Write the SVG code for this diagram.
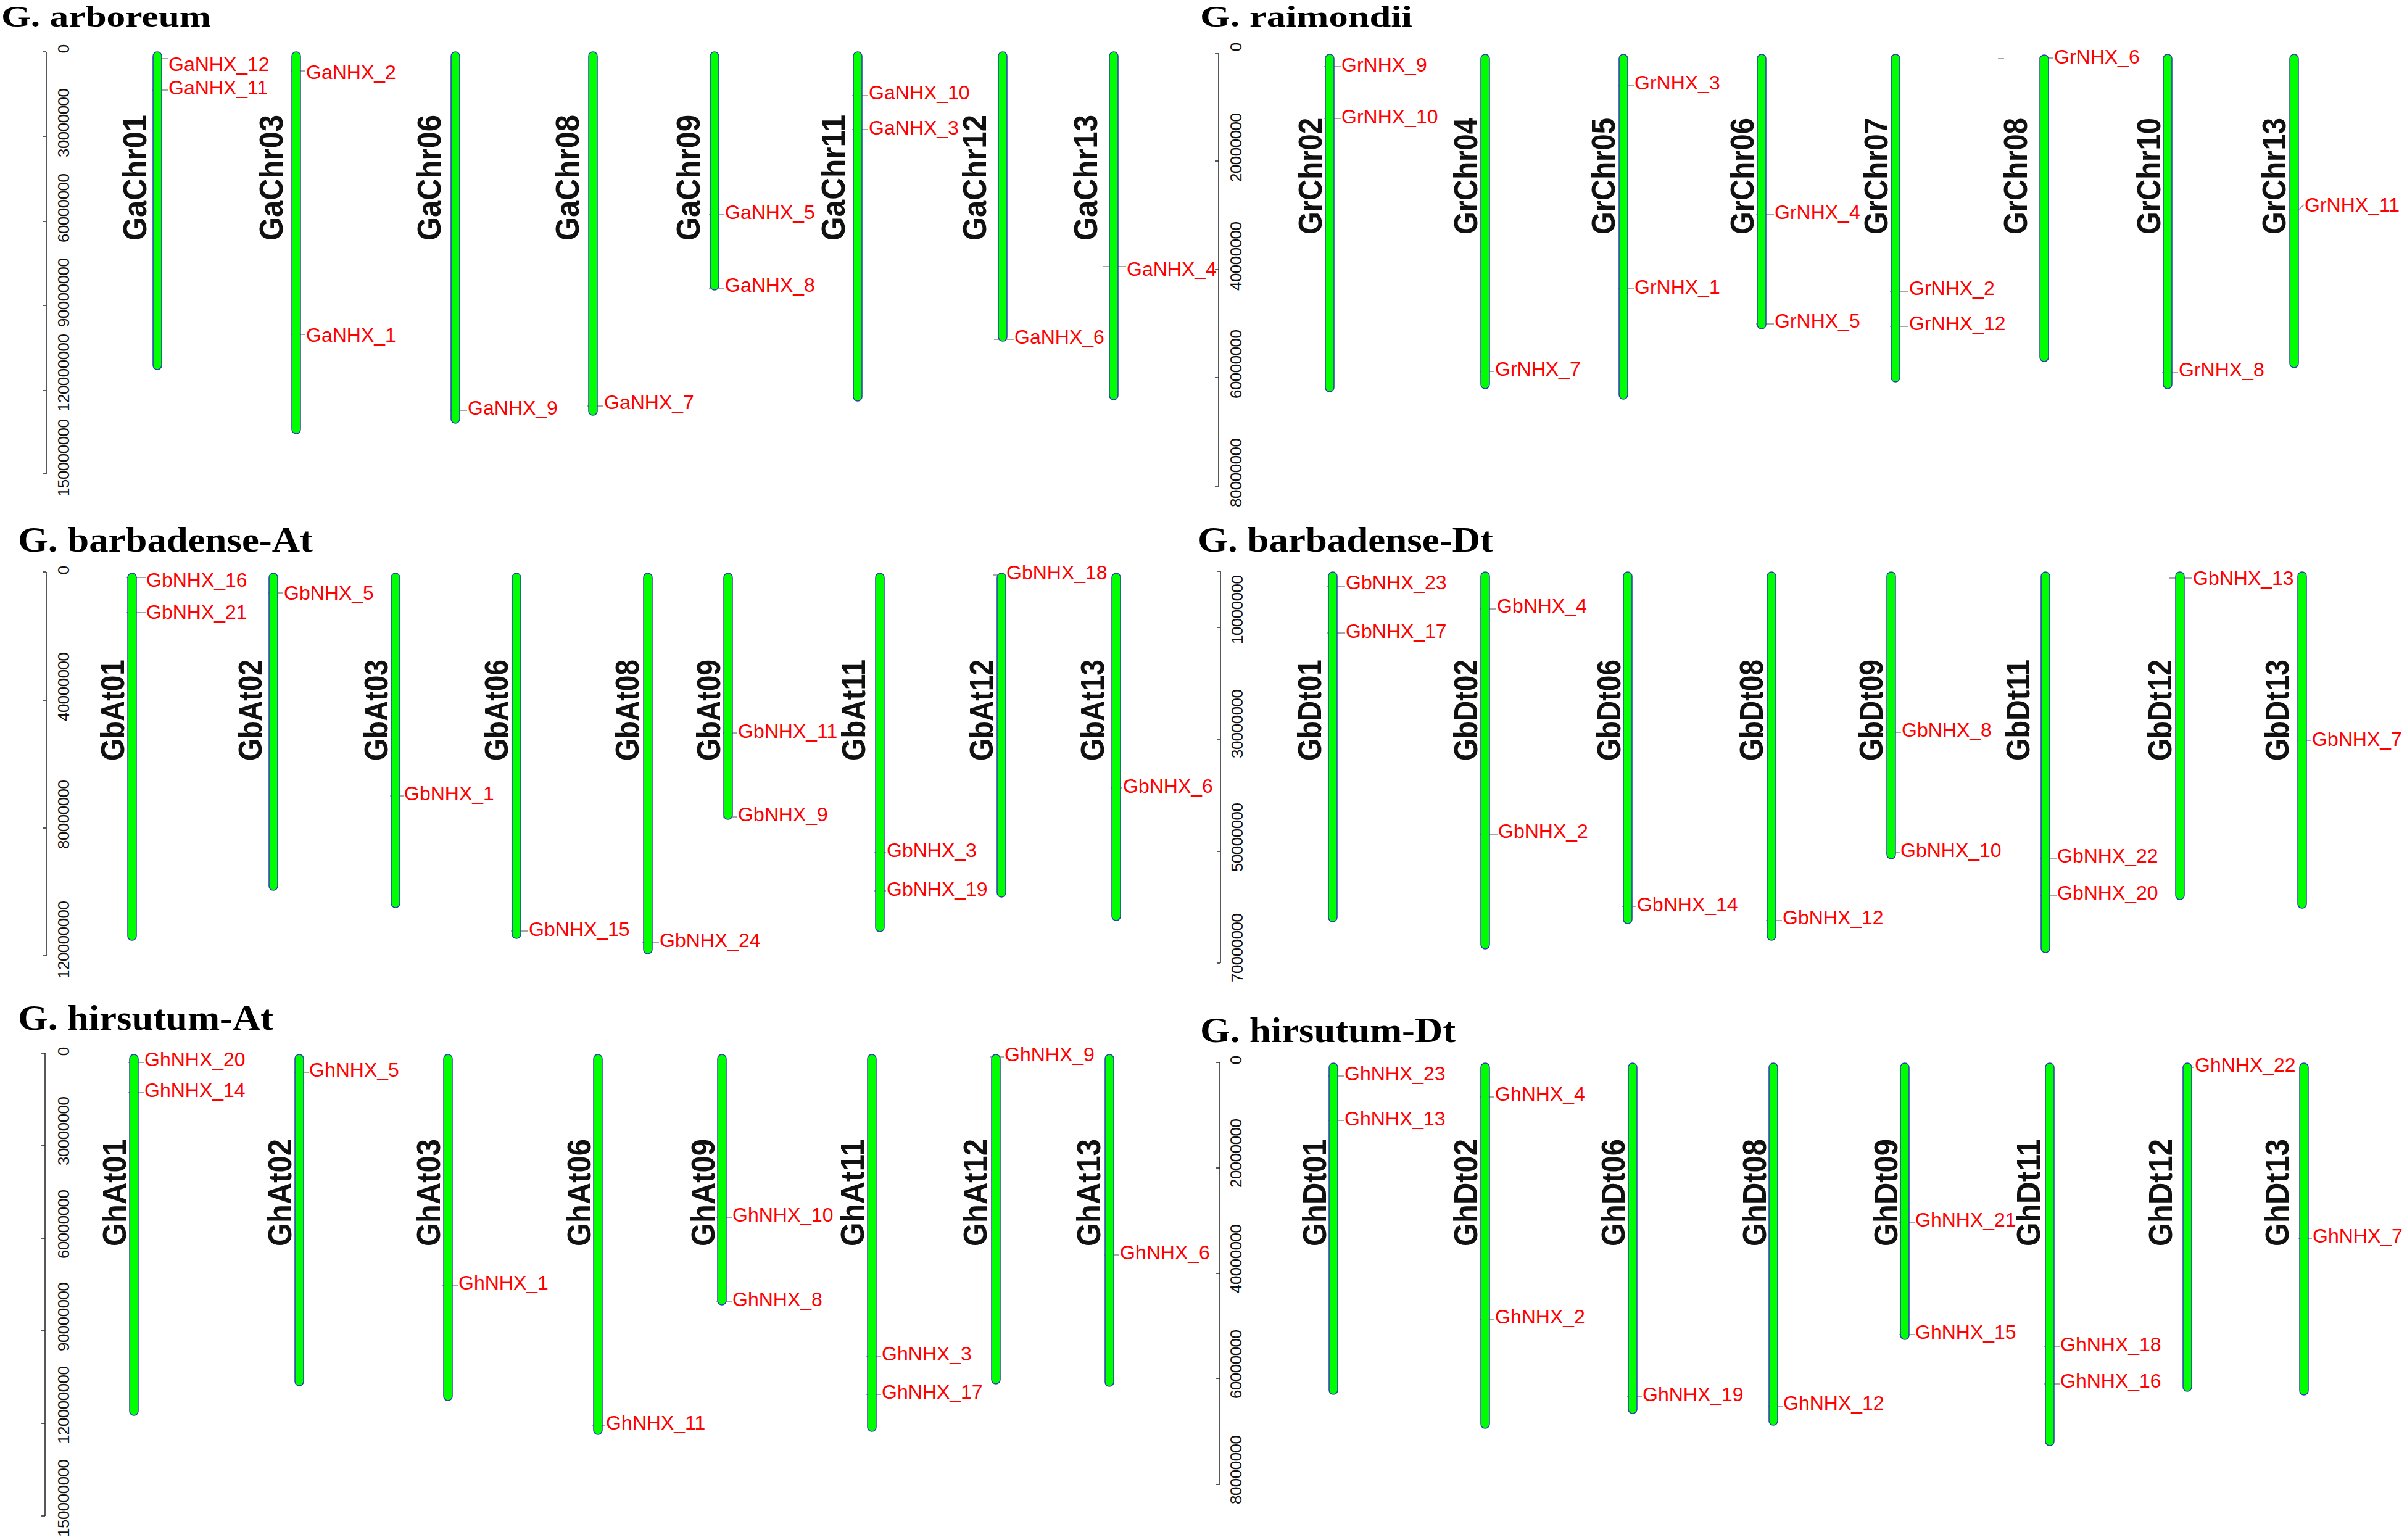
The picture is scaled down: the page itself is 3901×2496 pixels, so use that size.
<svg xmlns="http://www.w3.org/2000/svg" width="3901" height="2496" viewBox="0 0 3901 2496">
<style>
.chr{fill:#00ff00;stroke:#2a3bb5;stroke-width:1.5}
.cl{font-family:"Liberation Sans",Arial,sans-serif;font-weight:bold;font-size:53px;fill:#111}
.gl{font-family:"Liberation Sans",Arial,sans-serif;font-size:32px;fill:#ff0000}
.tl{font-family:"Liberation Sans",Arial,sans-serif;font-size:26px;fill:#111;text-anchor:middle}
.ttl{font-family:"Liberation Serif","Times New Roman",serif;font-weight:bold;font-size:56px;fill:#000}
.ttl2{font-family:"Liberation Serif","Times New Roman",serif;font-weight:bold;font-size:48px;fill:#000}
.ax{stroke:#222;stroke-width:1.5;fill:none}
.mk{stroke:#8a8a8a;stroke-width:1.5;fill:none}
</style>
<rect width="3901" height="2496" fill="#fff"/>
<!-- titles -->
<text class="ttl2" x="2" y="43" textLength="340" lengthAdjust="spacingAndGlyphs">G. arboreum</text>
<text class="ttl2" x="1945" y="43" textLength="344" lengthAdjust="spacingAndGlyphs">G. raimondii</text>
<text class="ttl" x="29" y="894" textLength="478" lengthAdjust="spacingAndGlyphs">G. barbadense-At</text>
<text class="ttl" x="1941" y="894" textLength="479" lengthAdjust="spacingAndGlyphs">G. barbadense-Dt</text>
<text class="ttl" x="29" y="1669" textLength="414" lengthAdjust="spacingAndGlyphs">G. hirsutum-At</text>
<text class="ttl" x="1945" y="1689" textLength="414" lengthAdjust="spacingAndGlyphs">G. hirsutum-Dt</text>
<!-- axes -->
<g id="axis-arboreum">
<path class="ax" d="M75 84V768M69 84H75M69 221H75M69 359H75M69 495H75M69 633H75M69 768H75"/>
<text class="tl" transform="translate(112,79) rotate(-90)">0</text>
<text class="tl" transform="translate(112,199) rotate(-90)" textLength="112">30000000</text>
<text class="tl" transform="translate(112,337) rotate(-90)" textLength="112">60000000</text>
<text class="tl" transform="translate(112,474) rotate(-90)" textLength="112">90000000</text>
<text class="tl" transform="translate(112,604) rotate(-90)" textLength="126">120000000</text>
<text class="tl" transform="translate(112,742) rotate(-90)" textLength="126">150000000</text>
</g>
<g id="axis-raimondii">
<path class="ax" d="M1975 87V788M1969 87H1975M1969 261H1975M1969 437H1975M1969 612H1975M1969 788H1975"/>
<text class="tl" transform="translate(2012,76) rotate(-90)">0</text>
<text class="tl" transform="translate(2012,239) rotate(-90)" textLength="112">20000000</text>
<text class="tl" transform="translate(2012,415) rotate(-90)" textLength="112">40000000</text>
<text class="tl" transform="translate(2012,590) rotate(-90)" textLength="112">60000000</text>
<text class="tl" transform="translate(2012,766) rotate(-90)" textLength="112">80000000</text>
</g>
<g id="axis-barbadense-At">
<path class="ax" d="M75 927V1549M69 927H75M69 1135H75M69 1342H75M69 1549H75"/>
<text class="tl" transform="translate(112,924) rotate(-90)">0</text>
<text class="tl" transform="translate(112,1113) rotate(-90)" textLength="112">40000000</text>
<text class="tl" transform="translate(112,1320) rotate(-90)" textLength="112">80000000</text>
<text class="tl" transform="translate(112,1523) rotate(-90)" textLength="126">120000000</text>
</g>
<g id="axis-barbadense-Dt">
<path class="ax" d="M1978 926V1561M1972 926H1978M1972 1017H1978M1972 1198H1978M1972 1380H1978M1972 1561H1978"/>
<text class="tl" transform="translate(2014,988) rotate(-90)" textLength="112">10000000</text>
<text class="tl" transform="translate(2014,1173) rotate(-90)" textLength="112">30000000</text>
<text class="tl" transform="translate(2014,1357) rotate(-90)" textLength="112">50000000</text>
<text class="tl" transform="translate(2014,1536) rotate(-90)" textLength="112">70000000</text>
</g>
<g id="axis-hirsutum-At">
<path class="ax" d="M73 1707V2457M67 1707H73M67 1857H73M67 2007H73M67 2157H73M67 2307H73M67 2457H73"/>
<text class="tl" transform="translate(112,1704) rotate(-90)">0</text>
<text class="tl" transform="translate(112,1833) rotate(-90)" textLength="112">30000000</text>
<text class="tl" transform="translate(112,1984) rotate(-90)" textLength="112">60000000</text>
<text class="tl" transform="translate(112,2134) rotate(-90)" textLength="112">90000000</text>
<text class="tl" transform="translate(112,2277) rotate(-90)" textLength="126">120000000</text>
<text class="tl" transform="translate(112,2428) rotate(-90)" textLength="126">150000000</text>
</g>
<g id="axis-hirsutum-Dt">
<path class="ax" d="M1977 1722V2406M1971 1722H1977M1971 1893H1977M1971 2064H1977M1971 2234H1977M1971 2406H1977"/>
<text class="tl" transform="translate(2012,1718) rotate(-90)">0</text>
<text class="tl" transform="translate(2012,1869) rotate(-90)" textLength="112">20000000</text>
<text class="tl" transform="translate(2012,2040) rotate(-90)" textLength="112">40000000</text>
<text class="tl" transform="translate(2012,2211) rotate(-90)" textLength="112">60000000</text>
<text class="tl" transform="translate(2012,2382) rotate(-90)" textLength="112">80000000</text>
</g>
<!-- connectors: gene marker lines -->
<g id="connectors" class="mk">
<path d="M246 95H272M246 146H272M471 115H495M471 542H495M729 665H757M952 658H978M1149 348H1174M1149 467H1174M1381 155H1407M1381 210H1407M1611 550H1643M1788 432H1825"/>
<path d="M2146 108H2173M2146 192H2173M2398 602H2422M2622 138H2648M2622 468H2648M2846 348H2875M2846 525H2875M3063 472H3093M3063 529H3093M3304 94H3328M3238 95H3248M3504 604H3530M3709 339H3726L3734 332"/>
<path d="M205 936H236M205 993H236M434 961H459M632 1290H654M828 1509H856M1041 1527H1068M1171 1188H1195M1171 1324H1195M1417 1382H1436M1417 1444H1436M1609 932H1630M1800 1277H1819"/>
<path d="M2151 950H2180M2151 1026H2180M2398 987H2425M2398 1352H2427M2629 1469H2652M2862 1492H2888M3056 1187H3081M3056 1382H3079M3306 1391H3333M3306 1451H3333M3515 937H3553M3722 1200H3746"/>
<path d="M208 1722H233M208 1771H233M476 1738H500M717 2083H742M960 2311H981M1161 1973H1186M1161 2110H1186M1404 2198H1428M1404 2260H1428M1605 1713H1627M1789 2034H1814"/>
<path d="M2152 1744H2178M2152 1816H2178M2398 1778H2422M2398 2138H2422M2637 2264H2661M2865 2280H2889M3078 1981H3103M3078 2163H3103M3313 2183H3338M3313 2243H3338M3536 1730H3556M3725 2007H3747"/>
</g>
<!-- G. arboreum -->
<g id="GaChr01"><rect class="chr" x="248" y="84" width="14" height="515" rx="7"/><text class="cl" transform="translate(237,390) rotate(-90)" textLength="204" lengthAdjust="spacingAndGlyphs">GaChr01</text><text class="gl" x="273" y="115">GaNHX_12</text><text class="gl" x="273" y="153">GaNHX_11</text></g>
<g id="GaChr03"><rect class="chr" x="473" y="84" width="14" height="619" rx="7"/><text class="cl" transform="translate(458,390) rotate(-90)" textLength="204" lengthAdjust="spacingAndGlyphs">GaChr03</text><text class="gl" x="496" y="128">GaNHX_2</text><text class="gl" x="496" y="554">GaNHX_1</text></g>
<g id="GaChr06"><rect class="chr" x="731" y="84" width="14" height="602" rx="7"/><text class="cl" transform="translate(714,390) rotate(-90)" textLength="204" lengthAdjust="spacingAndGlyphs">GaChr06</text><text class="gl" x="758" y="672">GaNHX_9</text></g>
<g id="GaChr08"><rect class="chr" x="954" y="84" width="14" height="589" rx="7"/><text class="cl" transform="translate(938,390) rotate(-90)" textLength="204" lengthAdjust="spacingAndGlyphs">GaChr08</text><text class="gl" x="979" y="663">GaNHX_7</text></g>
<g id="GaChr09"><rect class="chr" x="1151" y="84" width="14" height="386" rx="7"/><text class="cl" transform="translate(1134,390) rotate(-90)" textLength="204" lengthAdjust="spacingAndGlyphs">GaChr09</text><text class="gl" x="1175" y="355">GaNHX_5</text><text class="gl" x="1175" y="473">GaNHX_8</text></g>
<g id="GaChr11"><rect class="chr" x="1383" y="84" width="14" height="566" rx="7"/><text class="cl" transform="translate(1369,390) rotate(-90)" textLength="204" lengthAdjust="spacingAndGlyphs">GaChr11</text><text class="gl" x="1408" y="161">GaNHX_10</text><text class="gl" x="1408" y="218">GaNHX_3</text></g>
<g id="GaChr12"><rect class="chr" x="1618" y="84" width="14" height="469" rx="7"/><text class="cl" transform="translate(1598,390) rotate(-90)" textLength="204" lengthAdjust="spacingAndGlyphs">GaChr12</text><text class="gl" x="1644" y="557">GaNHX_6</text></g>
<g id="GaChr13"><rect class="chr" x="1798" y="84" width="14" height="564" rx="7"/><text class="cl" transform="translate(1778,390) rotate(-90)" textLength="204" lengthAdjust="spacingAndGlyphs">GaChr13</text><text class="gl" x="1826" y="447">GaNHX_4</text></g>
<!-- G. raimondii -->
<g id="GrChr02"><rect class="chr" x="2148" y="88" width="14" height="547" rx="7"/><text class="cl" transform="translate(2142,380) rotate(-90)" textLength="189" lengthAdjust="spacingAndGlyphs">GrChr02</text><text class="gl" x="2174" y="116">GrNHX_9</text><text class="gl" x="2174" y="200">GrNHX_10</text></g>
<g id="GrChr04"><rect class="chr" x="2400" y="88" width="14" height="542" rx="7"/><text class="cl" transform="translate(2394,380) rotate(-90)" textLength="189" lengthAdjust="spacingAndGlyphs">GrChr04</text><text class="gl" x="2423" y="609">GrNHX_7</text></g>
<g id="GrChr05"><rect class="chr" x="2624" y="88" width="14" height="559" rx="7"/><text class="cl" transform="translate(2617,380) rotate(-90)" textLength="189" lengthAdjust="spacingAndGlyphs">GrChr05</text><text class="gl" x="2649" y="145">GrNHX_3</text><text class="gl" x="2649" y="476">GrNHX_1</text></g>
<g id="GrChr06"><rect class="chr" x="2848" y="88" width="14" height="445" rx="7"/><text class="cl" transform="translate(2842,380) rotate(-90)" textLength="189" lengthAdjust="spacingAndGlyphs">GrChr06</text><text class="gl" x="2876" y="355">GrNHX_4</text><text class="gl" x="2876" y="531">GrNHX_5</text></g>
<g id="GrChr07"><rect class="chr" x="3065" y="88" width="14" height="531" rx="7"/><text class="cl" transform="translate(3059,380) rotate(-90)" textLength="189" lengthAdjust="spacingAndGlyphs">GrChr07</text><text class="gl" x="3094" y="478">GrNHX_2</text><text class="gl" x="3094" y="535">GrNHX_12</text></g>
<g id="GrChr08"><rect class="chr" x="3306" y="89" width="14" height="497" rx="7"/><text class="cl" transform="translate(3285,380) rotate(-90)" textLength="189" lengthAdjust="spacingAndGlyphs">GrChr08</text><text class="gl" x="3329" y="103">GrNHX_6</text></g>
<g id="GrChr10"><rect class="chr" x="3506" y="88" width="14" height="542" rx="7"/><text class="cl" transform="translate(3501,380) rotate(-90)" textLength="189" lengthAdjust="spacingAndGlyphs">GrChr10</text><text class="gl" x="3531" y="610">GrNHX_8</text></g>
<g id="GrChr13"><rect class="chr" x="3711" y="88" width="14" height="508" rx="7"/><text class="cl" transform="translate(3704,380) rotate(-90)" textLength="189" lengthAdjust="spacingAndGlyphs">GrChr13</text><text class="gl" x="3735" y="343">GrNHX_11</text></g>
<!-- G. barbadense-At -->
<g id="GbAt01"><rect class="chr" x="207" y="929" width="14" height="595" rx="7"/><text class="cl" transform="translate(201,1233) rotate(-90)" textLength="164" lengthAdjust="spacingAndGlyphs">GbAt01</text><text class="gl" x="237" y="951">GbNHX_16</text><text class="gl" x="237" y="1003">GbNHX_21</text></g>
<g id="GbAt02"><rect class="chr" x="436" y="929" width="14" height="514" rx="7"/><text class="cl" transform="translate(424,1233) rotate(-90)" textLength="164" lengthAdjust="spacingAndGlyphs">GbAt02</text><text class="gl" x="460" y="972">GbNHX_5</text></g>
<g id="GbAt03"><rect class="chr" x="634" y="929" width="14" height="542" rx="7"/><text class="cl" transform="translate(628,1233) rotate(-90)" textLength="164" lengthAdjust="spacingAndGlyphs">GbAt03</text><text class="gl" x="655" y="1297">GbNHX_1</text></g>
<g id="GbAt06"><rect class="chr" x="830" y="929" width="14" height="592" rx="7"/><text class="cl" transform="translate(823,1233) rotate(-90)" textLength="164" lengthAdjust="spacingAndGlyphs">GbAt06</text><text class="gl" x="857" y="1517">GbNHX_15</text></g>
<g id="GbAt08"><rect class="chr" x="1043" y="929" width="14" height="617" rx="7"/><text class="cl" transform="translate(1035,1233) rotate(-90)" textLength="164" lengthAdjust="spacingAndGlyphs">GbAt08</text><text class="gl" x="1069" y="1535">GbNHX_24</text></g>
<g id="GbAt09"><rect class="chr" x="1173" y="929" width="14" height="399" rx="7"/><text class="cl" transform="translate(1167,1233) rotate(-90)" textLength="164" lengthAdjust="spacingAndGlyphs">GbAt09</text><text class="gl" x="1196" y="1196">GbNHX_11</text><text class="gl" x="1196" y="1331">GbNHX_9</text></g>
<g id="GbAt11"><rect class="chr" x="1419" y="929" width="14" height="581" rx="7"/><text class="cl" transform="translate(1402,1233) rotate(-90)" textLength="164" lengthAdjust="spacingAndGlyphs">GbAt11</text><text class="gl" x="1437" y="1389">GbNHX_3</text><text class="gl" x="1437" y="1452">GbNHX_19</text></g>
<g id="GbAt12"><rect class="chr" x="1616" y="929" width="14" height="525" rx="7"/><text class="cl" transform="translate(1609,1233) rotate(-90)" textLength="164" lengthAdjust="spacingAndGlyphs">GbAt12</text><text class="gl" x="1631" y="939">GbNHX_18</text></g>
<g id="GbAt13"><rect class="chr" x="1802" y="929" width="14" height="563" rx="7"/><text class="cl" transform="translate(1789,1233) rotate(-90)" textLength="164" lengthAdjust="spacingAndGlyphs">GbAt13</text><text class="gl" x="1820" y="1285">GbNHX_6</text></g>
<!-- G. barbadense-Dt -->
<g id="GbDt01"><rect class="chr" x="2153" y="927" width="14" height="567" rx="7"/><text class="cl" transform="translate(2141,1233) rotate(-90)" textLength="164" lengthAdjust="spacingAndGlyphs">GbDt01</text><text class="gl" x="2181" y="955">GbNHX_23</text><text class="gl" x="2181" y="1034">GbNHX_17</text></g>
<g id="GbDt02"><rect class="chr" x="2400" y="927" width="14" height="611" rx="7"/><text class="cl" transform="translate(2394,1233) rotate(-90)" textLength="164" lengthAdjust="spacingAndGlyphs">GbDt02</text><text class="gl" x="2426" y="993">GbNHX_4</text><text class="gl" x="2428" y="1358">GbNHX_2</text></g>
<g id="GbDt06"><rect class="chr" x="2631" y="927" width="14" height="570" rx="7"/><text class="cl" transform="translate(2626,1233) rotate(-90)" textLength="164" lengthAdjust="spacingAndGlyphs">GbDt06</text><text class="gl" x="2653" y="1477">GbNHX_14</text></g>
<g id="GbDt08"><rect class="chr" x="2864" y="927" width="14" height="597" rx="7"/><text class="cl" transform="translate(2857,1233) rotate(-90)" textLength="164" lengthAdjust="spacingAndGlyphs">GbDt08</text><text class="gl" x="2889" y="1498">GbNHX_12</text></g>
<g id="GbDt09"><rect class="chr" x="3058" y="927" width="14" height="465" rx="7"/><text class="cl" transform="translate(3051,1233) rotate(-90)" textLength="164" lengthAdjust="spacingAndGlyphs">GbDt09</text><text class="gl" x="3082" y="1194">GbNHX_8</text><text class="gl" x="3080" y="1389">GbNHX_10</text></g>
<g id="GbDt11"><rect class="chr" x="3308" y="927" width="14" height="617" rx="7"/><text class="cl" transform="translate(3289,1233) rotate(-90)" textLength="164" lengthAdjust="spacingAndGlyphs">GbDt11</text><text class="gl" x="3334" y="1398">GbNHX_22</text><text class="gl" x="3334" y="1458">GbNHX_20</text></g>
<g id="GbDt12"><rect class="chr" x="3526" y="927" width="14" height="531" rx="7"/><text class="cl" transform="translate(3519,1233) rotate(-90)" textLength="164" lengthAdjust="spacingAndGlyphs">GbDt12</text><text class="gl" x="3554" y="948">GbNHX_13</text></g>
<g id="GbDt13"><rect class="chr" x="3724" y="927" width="14" height="545" rx="7"/><text class="cl" transform="translate(3709,1233) rotate(-90)" textLength="164" lengthAdjust="spacingAndGlyphs">GbDt13</text><text class="gl" x="3747" y="1209">GbNHX_7</text></g>
<!-- G. hirsutum-At -->
<g id="GhAt01"><rect class="chr" x="210" y="1709" width="14" height="585" rx="7"/><text class="cl" transform="translate(204,2020) rotate(-90)" textLength="174" lengthAdjust="spacingAndGlyphs">GhAt01</text><text class="gl" x="234" y="1728">GhNHX_20</text><text class="gl" x="234" y="1778">GhNHX_14</text></g>
<g id="GhAt02"><rect class="chr" x="478" y="1709" width="14" height="537" rx="7"/><text class="cl" transform="translate(472,2020) rotate(-90)" textLength="174" lengthAdjust="spacingAndGlyphs">GhAt02</text><text class="gl" x="501" y="1745">GhNHX_5</text></g>
<g id="GhAt03"><rect class="chr" x="719" y="1709" width="14" height="561" rx="7"/><text class="cl" transform="translate(713,2020) rotate(-90)" textLength="174" lengthAdjust="spacingAndGlyphs">GhAt03</text><text class="gl" x="743" y="2090">GhNHX_1</text></g>
<g id="GhAt06"><rect class="chr" x="962" y="1709" width="14" height="616" rx="7"/><text class="cl" transform="translate(957,2020) rotate(-90)" textLength="174" lengthAdjust="spacingAndGlyphs">GhAt06</text><text class="gl" x="982" y="2317">GhNHX_11</text></g>
<g id="GhAt09"><rect class="chr" x="1163" y="1709" width="14" height="406" rx="7"/><text class="cl" transform="translate(1158,2020) rotate(-90)" textLength="174" lengthAdjust="spacingAndGlyphs">GhAt09</text><text class="gl" x="1187" y="1980">GhNHX_10</text><text class="gl" x="1187" y="2117">GhNHX_8</text></g>
<g id="GhAt11"><rect class="chr" x="1406" y="1709" width="14" height="611" rx="7"/><text class="cl" transform="translate(1400,2020) rotate(-90)" textLength="174" lengthAdjust="spacingAndGlyphs">GhAt11</text><text class="gl" x="1429" y="2205">GhNHX_3</text><text class="gl" x="1429" y="2267">GhNHX_17</text></g>
<g id="GhAt12"><rect class="chr" x="1607" y="1709" width="14" height="534" rx="7"/><text class="cl" transform="translate(1599,2020) rotate(-90)" textLength="174" lengthAdjust="spacingAndGlyphs">GhAt12</text><text class="gl" x="1628" y="1720">GhNHX_9</text></g>
<g id="GhAt13"><rect class="chr" x="1791" y="1709" width="14" height="538" rx="7"/><text class="cl" transform="translate(1783,2020) rotate(-90)" textLength="174" lengthAdjust="spacingAndGlyphs">GhAt13</text><text class="gl" x="1815" y="2041">GhNHX_6</text></g>
<!-- G. hirsutum-Dt -->
<g id="GhDt01"><rect class="chr" x="2154" y="1723" width="14" height="537" rx="7"/><text class="cl" transform="translate(2149,2020) rotate(-90)" textLength="174" lengthAdjust="spacingAndGlyphs">GhDt01</text><text class="gl" x="2179" y="1751">GhNHX_23</text><text class="gl" x="2179" y="1824">GhNHX_13</text></g>
<g id="GhDt02"><rect class="chr" x="2400" y="1723" width="14" height="592" rx="7"/><text class="cl" transform="translate(2394,2020) rotate(-90)" textLength="174" lengthAdjust="spacingAndGlyphs">GhDt02</text><text class="gl" x="2423" y="1784">GhNHX_4</text><text class="gl" x="2423" y="2145">GhNHX_2</text></g>
<g id="GhDt06"><rect class="chr" x="2639" y="1723" width="14" height="568" rx="7"/><text class="cl" transform="translate(2633,2020) rotate(-90)" textLength="174" lengthAdjust="spacingAndGlyphs">GhDt06</text><text class="gl" x="2662" y="2271">GhNHX_19</text></g>
<g id="GhDt08"><rect class="chr" x="2867" y="1723" width="14" height="587" rx="7"/><text class="cl" transform="translate(2862,2020) rotate(-90)" textLength="174" lengthAdjust="spacingAndGlyphs">GhDt08</text><text class="gl" x="2890" y="2285">GhNHX_12</text></g>
<g id="GhDt09"><rect class="chr" x="3080" y="1723" width="14" height="448" rx="7"/><text class="cl" transform="translate(3075,2020) rotate(-90)" textLength="174" lengthAdjust="spacingAndGlyphs">GhDt09</text><text class="gl" x="3104" y="1988">GhNHX_21</text><text class="gl" x="3104" y="2170">GhNHX_15</text></g>
<g id="GhDt11"><rect class="chr" x="3315" y="1723" width="14" height="620" rx="7"/><text class="cl" transform="translate(3306,2020) rotate(-90)" textLength="174" lengthAdjust="spacingAndGlyphs">GhDt11</text><text class="gl" x="3339" y="2190">GhNHX_18</text><text class="gl" x="3339" y="2249">GhNHX_16</text></g>
<g id="GhDt12"><rect class="chr" x="3538" y="1723" width="14" height="532" rx="7"/><text class="cl" transform="translate(3520,2020) rotate(-90)" textLength="174" lengthAdjust="spacingAndGlyphs">GhDt12</text><text class="gl" x="3557" y="1737">GhNHX_22</text></g>
<g id="GhDt13"><rect class="chr" x="3727" y="1723" width="14" height="538" rx="7"/><text class="cl" transform="translate(3709,2020) rotate(-90)" textLength="174" lengthAdjust="spacingAndGlyphs">GhDt13</text><text class="gl" x="3748" y="2014">GhNHX_7</text></g>
</svg>
